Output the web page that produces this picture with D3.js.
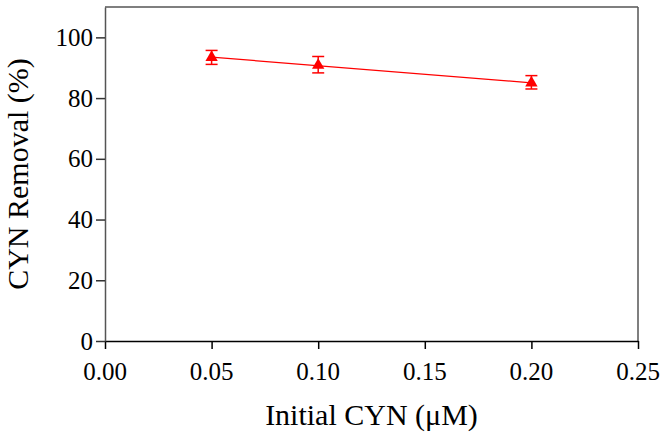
<!DOCTYPE html>
<html>
<head>
<meta charset="utf-8">
<script src="https://cdn.jsdelivr.net/npm/d3@7/dist/d3.min.js"></script>
<style>
  html, body { margin: 0; padding: 0; background: #fff; }
  svg { display: block; }
</style>
</head>
<body>
<svg id="chart" width="668" height="438"></svg>
<script>
// Data
const concentrations = [0.05, 0.10, 0.20];
const removal = [93.4, 90.8, 85.0];
const errUp = [2.3, 2.9, 2.4];
const errDown = [2.3, 2.5, 2.0];
const xTicks = [0.00, 0.05, 0.10, 0.15, 0.20, 0.25];
const yTicks = [0, 20, 40, 60, 80, 100];
const xTitle = "Initial CYN (μM)";
const yTitle = "CYN Removal (%)";

const W = 668, H = 438;
const margin = { left: 105, right: 30, top: 7, bottom: 97 };
const pw = W - margin.left - margin.right;
const ph = H - margin.top - margin.bottom;
const font = "Liberation Serif";
const red = "#ff0000";
const frame = "#555";

const svg = d3.select("#chart");
const g = svg.append("g").attr("transform", `translate(${margin.left},${margin.top})`);

const x = d3.scaleLinear().domain([0, 0.25]).range([0, pw]);
const y = d3.scaleLinear().domain([0, 110]).range([ph, 0]);

// frame: top & right
g.append("line").attr("x1", 0).attr("x2", pw).attr("y1", 0).attr("y2", 0)
  .attr("stroke", frame).attr("stroke-width", 1.5);
g.append("line").attr("x1", pw).attr("x2", pw).attr("y1", 0).attr("y2", ph)
  .attr("stroke", frame).attr("stroke-width", 1.5);

// x axis
const xAxis = g.append("g").attr("transform", `translate(0,${ph})`)
  .call(d3.axisBottom(x).tickValues(xTicks).tickFormat(() => "").tickSize(8).tickSizeOuter(0));
xAxis.select(".domain").attr("stroke", "#000").attr("stroke-width", 1.5);
xAxis.selectAll("line").attr("stroke", "#000").attr("stroke-width", 1.5);
const fx = d3.format(".2f");
g.append("g").attr("class", "xlabels").selectAll("text").data(xTicks).enter().append("text")
  .attr("x", d => x(d)).attr("y", ph + 39)
  .attr("text-anchor", "middle")
  .attr("font-family", font).attr("font-size", 25).attr("fill", "#000")
  .text(d => fx(d));

// y axis
const yAxis = g.append("g")
  .call(d3.axisLeft(y).tickValues(yTicks).tickFormat(() => "").tickSize(9).tickSizeOuter(0));
yAxis.select(".domain").attr("stroke", frame).attr("stroke-width", 1.5);
yAxis.selectAll("line").attr("stroke", "#333").attr("stroke-width", 1.5);
g.append("g").attr("class", "ylabels").selectAll("text").data(yTicks).enter().append("text")
  .attr("x", -12).attr("y", d => y(d)).attr("dy", "0.34em")
  .attr("text-anchor", "end")
  .attr("font-family", font).attr("font-size", 25).attr("fill", "#000")
  .text(d => String(d));

// regression line over data range
const n = concentrations.length;
const mx = d3.mean(concentrations), my = d3.mean(removal);
let sxy = 0, sxx = 0;
for (let i = 0; i < n; i++) {
  sxy += (concentrations[i] - mx) * (removal[i] - my);
  sxx += (concentrations[i] - mx) ** 2;
}
const slope = sxy / sxx, intercept = my - slope * mx;
const x0 = d3.min(concentrations), x1 = d3.max(concentrations);
g.append("line")
  .attr("x1", x(x0)).attr("y1", y(intercept + slope * x0))
  .attr("x2", x(x1)).attr("y2", y(intercept + slope * x1))
  .attr("stroke", red).attr("stroke-width", 1.3);

// error bars
const data = concentrations.map((c, i) => ({ c, v: removal[i], up: errUp[i], dn: errDown[i] }));
const eb = g.selectAll(".eb").data(data).enter().append("g").attr("class", "eb");
eb.append("line").attr("x1", d => x(d.c)).attr("x2", d => x(d.c))
  .attr("y1", d => y(d.v + d.up)).attr("y2", d => y(d.v - d.dn))
  .attr("stroke", red).attr("stroke-width", 1.5);
eb.append("line").attr("x1", d => x(d.c) - 6).attr("x2", d => x(d.c) + 6)
  .attr("y1", d => y(d.v + d.up)).attr("y2", d => y(d.v + d.up))
  .attr("stroke", red).attr("stroke-width", 1.5);
eb.append("line").attr("x1", d => x(d.c) - 6).attr("x2", d => x(d.c) + 6)
  .attr("y1", d => y(d.v - d.dn)).attr("y2", d => y(d.v - d.dn))
  .attr("stroke", red).attr("stroke-width", 1.5);

// markers
g.selectAll(".pt").data(data).enter().append("path")
  .attr("class", "pt")
  .attr("transform", d => `translate(${x(d.c)},${y(d.v)})`)
  .attr("d", d3.symbol().type(d3.symbolTriangle).size(66))
  .attr("fill", red);

// titles
svg.append("text")
  .attr("x", margin.left + pw / 2).attr("y", 425)
  .attr("text-anchor", "middle").attr("font-family", font).attr("font-size", 30)
  .attr("fill", "#000").text(xTitle);
svg.append("text")
  .attr("transform", `translate(28,${margin.top + ph / 2}) rotate(-90)`)
  .attr("text-anchor", "middle").attr("font-family", font).attr("font-size", 30)
  .attr("fill", "#000").text(yTitle);
</script>
</body>
</html>
